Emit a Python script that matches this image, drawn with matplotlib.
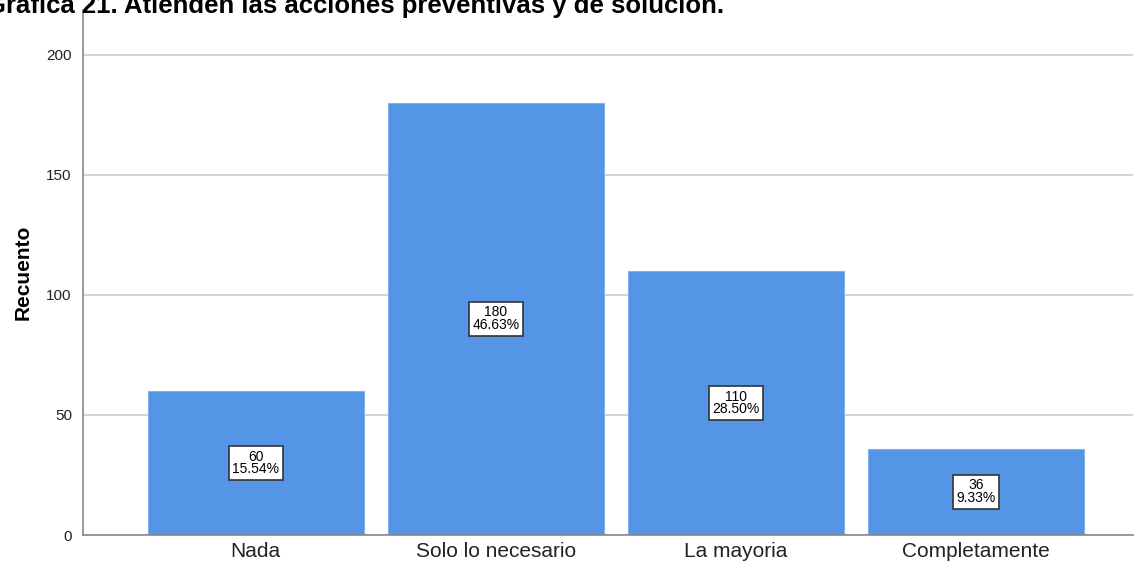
import matplotlib.pyplot as plt

categories = ["Nada", "Solo lo necesario", "La mayoria", "Completamente"]
counts = [60, 180, 110, 36]
percents = ["15.54%", "46.63%", "28.50%", "9.33%"]
yticks = [0, 50, 100, 150, 200]

plt.rcParams["font.family"] = ["Liberation Sans", "DejaVu Sans"]

fig = plt.figure(figsize=(11.38, 5.70), dpi=100)
ax = fig.add_axes([0.0729, 0.0614, 0.9227, 0.9211])

x = range(len(categories))
ax.bar(x, counts, width=0.9, color="#5595e5", edgecolor="#7fb0ee", linewidth=0.8, zorder=2)

for i, (c, p) in enumerate(zip(counts, percents)):
    ax.text(i, c / 2, f"{c}\n{p}", ha="center", va="center", fontsize=10,
            linespacing=0.9, zorder=3,
            bbox=dict(boxstyle="square,pad=0.25", facecolor="white",
                      edgecolor="#333333", linewidth=1.2))

ax.set_xlim(-0.72, 3.654)
ax.set_ylim(0, 218.7)
ax.set_xticks(list(x))
ax.set_xticklabels(categories, fontsize=15, color="#222222")
ax.set_yticks(yticks)
ax.set_yticklabels([str(t) for t in yticks], fontsize=11, color="#222222")
ax.tick_params(length=0, pad=8)
ax.tick_params(axis="x", pad=5)
ax.grid(axis="y", color="#cccccc", linewidth=1.2, zorder=0)
ax.set_axisbelow(True)

for s in ["top", "right"]:
    ax.spines[s].set_visible(False)
ax.spines["left"].set_color("#888888")
ax.spines["bottom"].set_color("#888888")
ax.spines["left"].set_linewidth(1.2)
ax.spines["bottom"].set_linewidth(1.2)

ax.set_ylabel("Recuento", fontsize=15, fontweight="bold", labelpad=10)

# title is cut off at the top edge in the original
fig.text(-0.012, 1.010, "Gráfica 21. Atienden las acciones preventivas y de solución.",
         fontsize=18.5, fontweight="bold", ha="left", va="top")

fig.savefig("out.png", dpi=100)
